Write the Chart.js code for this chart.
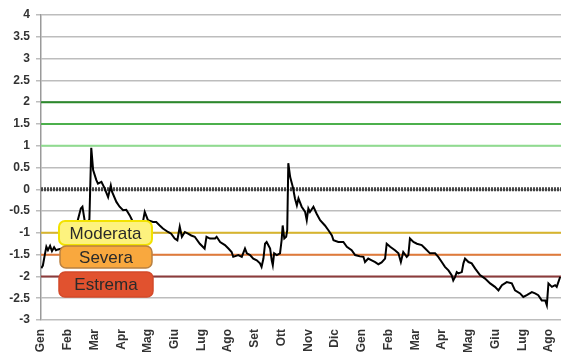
<!DOCTYPE html>
<html lang="it">
<head>
    <meta charset="UTF-8">
    <title>Indice di siccità</title>
    <script src="https://cdn.jsdelivr.net/npm/chart.js"></script>
    <style>
        body {
            margin: 0;
            background-color: #ffffff;
        }
        .chart-container {
            width: 561px;
            height: 352px;
        }
    </style>
</head>
<body>
    <div class="chart-container">
        <canvas id="spiChart"></canvas>
    </div>

    <script>
        // Etichette dei mesi (asse X)
        const mesi = ['Gen', 'Feb', 'Mar', 'Apr', 'Mag', 'Giu', 'Lug', 'Ago', 'Set', 'Ott',
                      'Nov', 'Dic', 'Gen', 'Feb', 'Mar', 'Apr', 'Mag', 'Giu', 'Lug', 'Ago'];

        // Posizione in mesi (0 = inizio Gen) e valore dell'indice
        const tempo = [0.01, 0.07, 0.14, 0.20, 0.26, 0.34, 0.41, 0.49, 0.56, 0.64,
                       0.79, 0.94, 1.08, 1.23, 1.38, 1.49, 1.55, 1.63, 1.72, 1.81,
                       1.88, 1.95, 2.07, 2.13, 2.26, 2.38, 2.51, 2.61, 2.66, 2.82,
                       2.94, 3.07, 3.19, 3.32, 3.44, 3.63, 3.82, 3.88, 4.00, 4.19,
                       4.31, 4.44, 4.56, 4.75, 4.87, 5.00, 5.10, 5.19, 5.27, 5.38,
                       5.50, 5.62, 5.75, 5.94, 6.12, 6.19, 6.32, 6.51, 6.57, 6.70,
                       6.88, 7.01, 7.13, 7.19, 7.38, 7.51, 7.63, 7.70, 7.82, 7.94,
                       8.07, 8.19, 8.25, 8.32, 8.38, 8.44, 8.57, 8.63, 8.67, 8.72,
                       8.82, 8.94, 9.00, 9.04, 9.10, 9.17, 9.21, 9.25, 9.32, 9.42,
                       9.50, 9.57, 9.63, 9.75, 9.88, 9.94, 10.00, 10.06, 10.19, 10.31,
                       10.44, 10.62, 10.75, 10.88, 10.94, 11.12, 11.31, 11.44, 11.62, 11.75,
                       11.93, 12.06, 12.12, 12.24, 12.37, 12.50, 12.62, 12.74, 12.87, 12.93,
                       13.06, 13.24, 13.37, 13.46, 13.55, 13.68, 13.74, 13.80, 13.93, 14.06,
                       14.24, 14.37, 14.55, 14.74, 14.86, 14.99, 15.11, 15.24, 15.36, 15.42,
                       15.49, 15.55, 15.61, 15.74, 15.80, 15.86, 15.99, 16.11, 16.24, 16.42,
                       16.61, 16.80, 16.98, 17.11, 17.24, 17.42, 17.61, 17.73, 17.92, 18.04,
                       18.17, 18.36, 18.48, 18.60, 18.73, 18.86, 18.92, 18.98, 19.11, 19.23,
                       19.29, 19.42];
        const indice = [-1.81, -1.75, -1.51, -1.32, -1.40, -1.30, -1.42, -1.33, -1.40, -1.38,
                        -1.36, -1.30, -1.20, -1.05, -0.70, -0.44, -0.40, -0.71, -0.75, -0.70,
                        0.95, 0.44, 0.21, 0.13, 0.17, 0.02, -0.18, 0.09, -0.06, -0.29,
                        -0.40, -0.48, -0.47, -0.60, -0.75, -0.82, -0.72, -0.52, -0.71, -0.75,
                        -0.75, -0.83, -0.90, -0.98, -1.02, -1.13, -1.17, -0.86, -1.09, -0.98,
                        -1.02, -1.06, -1.09, -1.25, -1.36, -1.09, -1.13, -1.13, -1.09, -1.21,
                        -1.28, -1.36, -1.44, -1.55, -1.51, -1.55, -1.36, -1.47, -1.51, -1.59,
                        -1.63, -1.70, -1.78, -1.59, -1.25, -1.21, -1.36, -1.63, -1.74, -1.47,
                        -1.51, -1.47, -1.17, -0.83, -1.13, -1.09, -0.94, 0.60, 0.28, 0.05,
                        -0.21, -0.37, -0.21, -0.40, -0.52, -0.71, -0.44, -0.52, -0.40, -0.56,
                        -0.71, -0.83, -0.94, -1.06, -1.17, -1.21, -1.21, -1.32, -1.40, -1.51,
                        -1.54, -1.55, -1.67, -1.59, -1.63, -1.67, -1.72, -1.68, -1.59, -1.25,
                        -1.32, -1.40, -1.47, -1.67, -1.44, -1.55, -1.51, -1.13, -1.21, -1.25,
                        -1.28, -1.36, -1.47, -1.47, -1.55, -1.67, -1.78, -1.86, -1.97, -2.09,
                        -2.01, -1.90, -1.93, -1.90, -1.70, -1.59, -1.67, -1.70, -1.82, -1.97,
                        -2.05, -2.16, -2.24, -2.32, -2.20, -2.13, -2.16, -2.32, -2.39, -2.47,
                        -2.43, -2.36, -2.39, -2.43, -2.55, -2.55, -2.66, -2.16, -2.24, -2.20,
                        -2.24, -2.01];

        // Soglie orizzontali
        const soglie = [2, 1.5, 1, -1, -1.5, -2];
        const coloriSoglie = ['#2b8a2b', '#4cb04c', '#8fdc8f', '#d8b52c', '#e07a3a', '#8c3b3b'];
        const fineAsse = 19.45;

        // Riquadri delle classi di siccità
        const classi = ['Moderata', 'Severa', 'Estrema'];
        const riempimenti = ['#fdf27e', '#f9a83e', '#e1522f'];
        const bordi = ['#f2e200', '#b98040', '#d44a2a'];

        const puntiIndice = tempo.map((t, i) => ({ x: t, y: indice[i] }));

        const datasets = [{
            data: puntiIndice,
            borderColor: '#000000',
            borderWidth: 2,
            pointRadius: 0,
            tension: 0,
            order: 0
        }, {
            data: [{ x: 0, y: 0 }, { x: fineAsse, y: 0 }],
            borderColor: '#444444',
            borderWidth: 4,
            borderDash: [2, 1],
            pointRadius: 0,
            order: 1
        }];
        soglie.forEach((v, i) => {
            datasets.push({
                data: [{ x: 0, y: v }, { x: fineAsse, y: v }],
                borderColor: coloriSoglie[i],
                borderWidth: 2,
                pointRadius: 0,
                order: 2
            });
        });

        // Disegna i riquadri con le etichette
        const riquadri = {
            id: 'riquadri',
            afterDraw(chart) {
                const ctx = chart.ctx;
                const boxes = [[59, 221, 93, 24], [60, 246, 92, 22], [59, 272, 94, 25]];
                ctx.save();
                boxes.forEach((b, i) => {
                    ctx.beginPath();
                    ctx.roundRect(b[0], b[1], b[2], b[3], 6);
                    ctx.fillStyle = riempimenti[i];
                    ctx.fill();
                    ctx.lineWidth = i === 0 ? 2 : 1.5;
                    ctx.strokeStyle = bordi[i];
                    ctx.stroke();
                    ctx.fillStyle = '#2a2a2a';
                    ctx.font = '17px "Liberation Sans", Arial, sans-serif';
                    ctx.textAlign = 'center';
                    ctx.textBaseline = 'middle';
                    ctx.fillText(classi[i], b[0] + b[2] / 2, b[1] + b[3] / 2 + 1);
                });
                ctx.restore();
            }
        };

        const ctx = document.getElementById('spiChart').getContext('2d');
        new Chart(ctx, {
            type: 'line',
            data: { datasets: datasets },
            plugins: [riquadri],
            options: {
                responsive: true,
                maintainAspectRatio: false,
                animation: false,
                layout: { padding: { top: 15, right: 0, left: 0, bottom: 0 } },
                plugins: {
                    legend: { display: false },
                    tooltip: { enabled: false }
                },
                scales: {
                    x: {
                        type: 'linear',
                        min: 0,
                        max: fineAsse,
                        afterFit: s => { s.height = 32; s.paddingLeft = 0; s.paddingRight = 0; },
                        grid: { display: false, drawTicks: false },
                        border: { display: false },
                        ticks: {
                            stepSize: 1,
                            includeBounds: false,
                            autoSkip: false,
                            minRotation: 90,
                            maxRotation: 90,
                            padding: 9,
                            color: '#333333',
                            font: { family: '"Liberation Sans", Arial, sans-serif', size: 12, weight: 'bold' },
                            callback: v => (Number.isInteger(v) && mesi[v] !== undefined) ? mesi[v] : ''
                        }
                    },
                    y: {
                        min: -3,
                        max: 4,
                        afterFit: s => { s.width = 41; },
                        grid: { color: '#bdbdbd', lineWidth: 1.5, tickLength: 5 },
                        border: { color: '#9a9a9a', width: 1.5 },
                        ticks: {
                            stepSize: 0.5,
                            padding: 6,
                            color: '#333333',
                            font: { family: '"Liberation Sans", Arial, sans-serif', size: 12, weight: 'bold' },
                            callback: v => String(v)
                        }
                    }
                }
            }
        });
    </script>
</body>
</html>
